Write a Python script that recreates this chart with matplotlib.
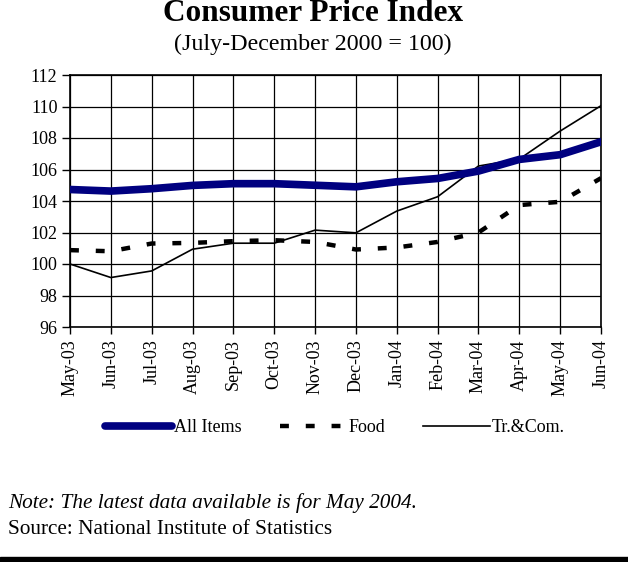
import matplotlib.pyplot as plt
from matplotlib.patches import Rectangle

months = ["May-03", "Jun-03", "Jul-03", "Aug-03", "Sep-03", "Oct-03", "Nov-03",
          "Dec-03", "Jan-04", "Feb-04", "Mar-04", "Apr-04", "May-04", "Jun-04"]
all_items = [104.73, 104.63, 104.78, 104.99, 105.10, 105.10, 105.00,
             104.90, 105.22, 105.43, 105.90, 106.64, 106.94, 107.76]
food = [100.88, 100.81, 101.30, 101.34, 101.45, 101.51, 101.40,
        100.92, 101.05, 101.40, 102.00, 103.74, 103.95, 105.45]
tr_com = [100.00, 99.14, 99.56, 100.94, 101.32, 101.32, 102.15,
          101.98, 103.36, 104.27, 106.22, 106.66, 108.44, 110.05]

plt.rcParams["font.family"] = ["Liberation Serif", "DejaVu Serif"]

fig = plt.figure(figsize=(6.28, 5.62), dpi=100)
ax = fig.add_axes([70 / 628, 1 - 327 / 562, 531 / 628, 252 / 562])

x = list(range(len(months)))
ax.plot(x, all_items, color="#000080", lw=5.5, solid_capstyle="round", label="All Items", zorder=4)
ax.plot(x, food, color="black", lw=3.2, dashes=(2.0, 3.8), label="Food", zorder=3)
ax.plot(x, tr_com, color="black", lw=1.2, label="Tr.&Com.", zorder=3)

ax.set_xlim(0, len(months) - 1)
ax.set_ylim(96, 112)
ax.set_yticks(range(96, 113, 2))
ax.set_xticks(x)
ax.set_xticklabels(months, rotation=90, fontsize=13)
ax.tick_params(axis="y", labelsize=13, length=6, width=1, pad=3)
ax.tick_params(axis="x", length=5, width=1, pad=4)
ax.grid(True, color="black", lw=0.9)
for s in ax.spines.values():
    s.set_linewidth(1.2)

fig.legend(loc="center", bbox_to_anchor=(335 / 628, 1 - 428 / 562), ncol=3, frameon=False,
           fontsize=13, handlelength=3.7, handletextpad=0.1, columnspacing=2.1)

fig.text(313 / 628, 1 - 21 / 562, "Consumer Price Index", ha="center", va="baseline",
         fontsize=22.5, fontweight="bold")
fig.text(313 / 628, 1 - 50 / 562, "(July-December 2000 = 100)", ha="center", va="baseline",
         fontsize=17.3)

fig.text(8 / 628, 1 - 503 / 562, "Note: The latest data available is for May 2004.",
         ha="left", va="center", fontsize=15.3, style="italic")
fig.text(8 / 628, 1 - 529 / 562, "Source: National Institute of Statistics",
         ha="left", va="center", fontsize=15.3)

fig.patches.append(Rectangle((0, 0), 1, 5 / 562, transform=fig.transFigure,
                             color="black", zorder=10))

fig.savefig("out.png", dpi=100)
